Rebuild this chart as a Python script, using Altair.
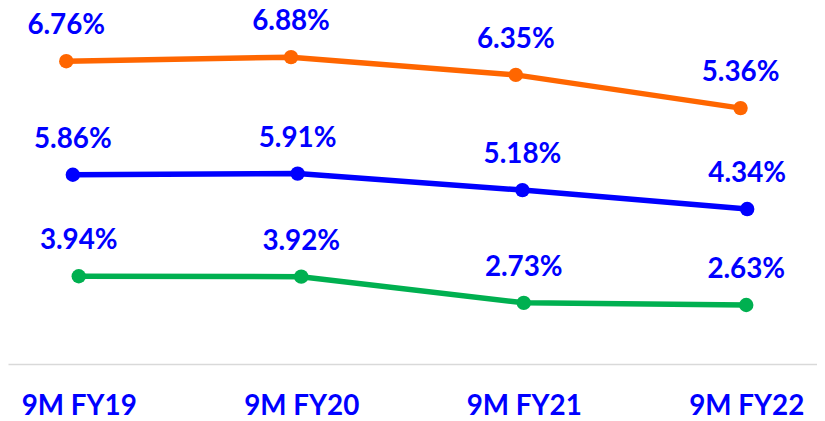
import altair as alt
import pandas as pd

periods = ["9M FY19", "9M FY20", "9M FY21", "9M FY22"]
orange_vals = [6.76, 6.88, 6.35, 5.36]
blue_vals = [5.86, 5.91, 5.18, 4.34]
green_vals = [3.94, 3.92, 2.73, 2.63]

FONT = "Lato"
TXT = "#0000FF"
TOP = 4


def series(vals, color, xscale, yscale, xaxis):
    df = pd.DataFrame({"period": periods, "v": vals})
    base = alt.Chart(df).transform_calculate(
        label="format(datum.v, '.2f') + '%'"
    ).encode(
        x=alt.X("period:N", sort=periods, scale=xscale, axis=xaxis, title=None),
        y=alt.Y("v:Q", scale=yscale, axis=None),
    )
    line = base.mark_line(color=color, strokeWidth=5.5)
    pts = base.mark_circle(color=color, size=210, opacity=1)
    txt = base.mark_text(
        dy=-27, baseline="alphabetic", align="center", font=FONT,
        fontSize=28, fontWeight="bold", color=TXT
    ).encode(text="label:N")
    return alt.layer(line, pts, txt)


x_axis = alt.Axis(
    labelAngle=0, ticks=False, tickSize=0, grid=False,
    domainColor="#D9D9D9", domainWidth=1.5,
    labelPadding=51, labelBaseline="alphabetic",
    labelFont=FONT, labelFontSize=28, labelFontWeight="bold", labelColor=TXT,
)

orange = series(
    orange_vals, "#FF6600",
    alt.Scale(type="point", domain=periods, range=[58.7, 738], padding=0),
    alt.Scale(domain=[5.36, 6.88], range=[99.3 - TOP, 48 - TOP], zero=False, nice=False),
    None,
)
blue = series(
    blue_vals, "#0000FF",
    alt.Scale(type="point", domain=periods, range=[65.3, 744.7], padding=0),
    alt.Scale(domain=[4.34, 5.91], range=[201 - TOP, 165.3 - TOP], zero=False, nice=False),
    None,
)
green = series(
    green_vals, "#00B050",
    alt.Scale(type="point", domain=periods, padding=0.318),
    alt.Scale(domain=[2.63, 3.94], range=[297.7 - TOP, 268.7 - TOP], zero=False, nice=False),
    x_axis,
)

chart = alt.layer(green, blue, orange).resolve_scale(
    x="independent", y="independent"
).properties(
    width=815, height=357 - TOP,
    padding={"top": TOP, "left": 0, "right": 0, "bottom": 56},
    autosize=alt.AutoSizeParams(type="none"),
).configure_view(stroke=None)

chart.save("out.html", embed_options={"renderer": "svg", "actions": False})
